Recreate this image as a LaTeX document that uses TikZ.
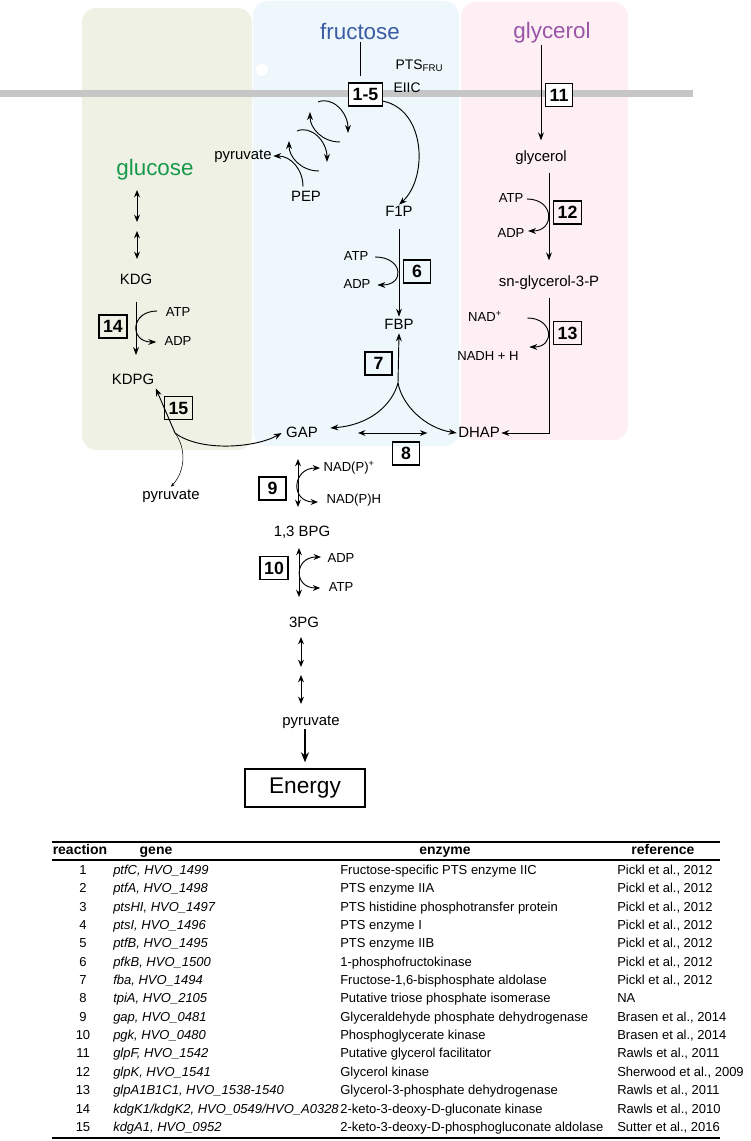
\documentclass[tikz,border=0pt]{standalone}
\usepackage{fontspec}
\setmainfont{Liberation Sans}
\usetikzlibrary{arrows.meta,positioning}

\definecolor{glucbg}{HTML}{F0F1E5}
\definecolor{frubg}{HTML}{EEF7FB}
\definecolor{glybg}{HTML}{FDEFF4}
\definecolor{membrane}{HTML}{C6C6C6}
\definecolor{frublue}{HTML}{3B5BA5}
\definecolor{glypurple}{HTML}{9B55A8}
\definecolor{glcgreen}{HTML}{17994B}

\tikzset{
  met/.style = {font=\fontsize{11.2}{13}\selectfont, inner sep=1pt, text height=8pt, text depth=2pt},
  cof/.style = {font=\fontsize{9.8}{12}\selectfont, inner sep=1pt, text height=7pt, text depth=1.8pt},
  ptslbl/.style = {cof, font=\fontsize{10.4}{12}\selectfont},
  sugar/.style = {font=\fontsize{16.8}{20}\selectfont, inner sep=1pt},
  enzbox/.style = {draw, line width=1.2pt, font=\bfseries\fontsize{13.3}{15}\selectfont, minimum width=20pt, minimum height=17pt, inner xsep=3pt, text height=9.5pt, text depth=0pt},
  rxn/.style = {line width=0.7pt, -{Stealth[length=6pt,width=4.4pt]}},
  revrxn/.style = {line width=0.7pt, {Stealth[length=5.5pt,width=4.4pt]}-{Stealth[length=5.5pt,width=4.4pt]}},
  tabtxt/.style = {font=\fontsize{9.75}{11}\selectfont, inner sep=0pt, text height=7pt, text depth=2pt},
  tabhead/.style = {tabtxt, font=\bfseries\fontsize{10.5}{12}\selectfont}
}

\begin{document}
\begin{tikzpicture}[x=0.75pt, y=-0.75pt]
\fill[white] (0,0) rectangle (750,1141);
\useasboundingbox (0,0) rectangle (750,1141);

% compartments and membrane
\fill[glucbg, rounded corners=11pt] (82,8) rectangle (252,450);
\fill[frubg, rounded corners=11pt] (253,1) rectangle (459,446);
\fill[glybg, rounded corners=11pt] (461,2) rectangle (628,440);
\fill[membrane] (0,90) rectangle (693,97);
\fill[white] (262,70) circle (4.5pt);

% fructose
\node[sugar, text=frublue] (fru) at (360,32) {fructose};
\node[enzbox, fill=white] (e1to5) at (365.5,94.5) {1-5};
\node[ptslbl, anchor=west] (pts) at (394,66) {PTS\textsubscript{FRU}};
\node[ptslbl, anchor=west] (eiic) at (392,89) {EIIC};
\node[met] (pep) at (306,198) {PEP};
\node[met] (pyrA) at (243,156) {pyruvate};
\node[met] (f1p) at (399,213) {F1P};
\node[cof] (atp6) at (356,257) {ATP};
\node[cof] (adp6) at (357,285) {ADP};
\node[enzbox] (e6) at (417,271.5) {6};
\node[met] (fbp) at (399,325) {FBP};
\node[enzbox] (e7) at (378.5,363.5) {7};
\coordinate (split) at (398,383);
\node[met] (gap) at (302,433) {GAP};
\node[met] (dhap) at (479,433) {DHAP};
\node[enzbox] (e8) at (406,453.5) {8};

% glycerol
\node[sugar, text=glypurple] (glyout) at (552,33) {glycerol};
\node[enzbox, fill=white] (e11) at (559,95) {11};
\node[met] (glyin) at (541,158) {glycerol};
\node[cof] (atp12) at (511,199) {ATP};
\node[cof] (adp12) at (511,234) {ADP};
\node[enzbox] (e12) at (567.5,212.5) {12};
\node[met] (g3p) at (549,282) {sn-glycerol-3-P};
\node[cof] (nad) at (485,318) {NAD\textsuperscript{+}};
\node[cof] (nadh) at (488,357) {NADH + H};
\node[enzbox] (e13) at (567.5,333) {13};

% glucose
\node[sugar, text=glcgreen] (glc) at (155,170) {glucose};
\node[met] (kdg) at (136,280) {KDG};
\node[cof] (atp14) at (178,313) {ATP};
\node[cof] (adp14) at (178,342) {ADP};
\node[enzbox] (e14) at (113,326.5) {14};
\node[met] (kdpg) at (133,380) {KDPG};
\node[enzbox] (e15) at (178.5,408) {15};
\coordinate (cleave) at (175,433);
\node[met] (pyrB) at (171,495) {pyruvate};

% lower glycolysis
\node[cof, anchor=west] (nadp) at (322,468) {NAD(P)\textsuperscript{+}};
\node[cof, anchor=west] (nadph) at (325,500) {NAD(P)H};
\node[enzbox] (e9) at (272.5,488.5) {9};
\node[met] (bpg) at (302,532) {1,3 BPG};
\node[cof] (adp10) at (341,559) {ADP};
\node[cof] (atp10) at (341,588) {ATP};
\node[enzbox] (e10) at (274,568) {10};
\node[met] (pg3) at (304,623) {3PG};
\node[met] (pyrC) at (311,721) {pyruvate};
\node[draw, line width=1.1pt, minimum width=90pt, minimum height=28.5pt, font=\fontsize{17}{20}\selectfont] (energy) at (305,788) {Energy};

% PTS uptake
\draw[line width=0.7pt, shorten >=4.5pt] (fru.south) -- (fru.south |- e1to5.north);
\draw[rxn] ([yshift=-5pt]e1to5.east) .. controls (426,110) and (428,178) .. (f1p.north);
\foreach \dx/\dy in {0/0, -21/29} {
  \begin{scope}[shift={(\dx,\dy)}]
    \draw[rxn] (318,102) .. controls (332,96) and (348,112) .. (348,133);
    \draw[rxn] (340,142) .. controls (322,142) and (310,128) .. (310,112);
  \end{scope}
}
\draw[rxn] ([shift={(-3,-3)}]pep.north) .. controls +(0,-17) and +(18,0) .. (pyrA.east);

% fructose to trioses
\draw[rxn, shorten <=6pt] (f1p.south) -- (fbp.north);
\draw[rxn] ([xshift=4pt]atp6.east) .. controls +(28,0) and +(28,0) .. ([xshift=4pt]adp6.east);
\draw[rxn] (split) -- (fbp.south);
\draw[rxn] (split) .. controls (392,405) and (370,425) .. ([shift={(11,-5)}]gap.east);
\draw[rxn] (split) .. controls (402,405) and (425,428) .. (dhap.west);
\draw[revrxn, shorten <=29pt, shorten >=22pt] (gap.east) -- (dhap.west);

% glycerol branch
\draw[rxn, shorten >=7pt] (glyout.south -| glyin.north) -- (glyin.north);
\draw[rxn, shorten <=5pt, shorten >=10pt] (glyin.south -| g3p.north) -- (g3p.north);
\draw[rxn] ([xshift=1.5pt]atp12.east) .. controls +(28,0) and +(27,0) .. ([shift={(2,-3)}]adp12.east);
\draw[rxn] ([xshift=18pt]nad.east) .. controls +(26,0) and +(26,0) .. ([shift={(9,-10)}]nadh.east);
\draw[rxn, shorten <=6pt] (g3p.south) |- (dhap.east);

% glucose branch
\draw[rxn, shorten <=10pt, shorten >=12.5pt] (kdg.south) -- (kdg.south |- kdpg.north);
\draw[rxn] ([shift={(-7,-2)}]atp14.west) .. controls +(-27,0) and +(-27,0) .. ([xshift=-5pt]adp14.west);
\draw[rxn] (cleave) -- (kdpg.south east);
\draw[rxn] (cleave) .. controls (200,452) and (255,448) .. ([shift={(-3,0)}]gap.west);
\draw[thin, -{Stealth[length=3pt,width=2.5pt]}] (cleave) .. controls (186,448) and (186,470) .. (pyrB.north);

% reversible steps
\foreach \x/\ya/\yb [count=\k] in {137/190/222, 137/231/259, 298/459/507, 299/548/597, 301/637/667, 301/675/704} {
  \coordinate (rv\k-a) at (\x,\ya);
  \coordinate (rv\k-b) at (\x,\yb);
  \draw[revrxn] (rv\k-a) -- (rv\k-b);
}
\draw[revrxn] ([xshift=-1.5pt]nadp.west) .. controls +(-28,0) and +(-28,0) .. ([shift={(-7,2)}]nadph.west);
\draw[revrxn] ([shift={(-5,-2)}]adp10.west) .. controls +(-27,0) and +(-27,0) .. ([shift={(-7,0)}]atp10.west);
\draw[rxn, line width=1.1pt, -{Stealth[length=7.5pt,width=6pt]}, shorten >=4.5pt] (pyrC.south -| energy.north) -- (energy.north);

% table
\draw[line width=1.5pt] (52,842) -- (720,842);
\draw[line width=1pt] (52,860) -- (720,860);
\draw[line width=1.5pt] (52,1138) -- (720,1138);
\node[tabhead] (hreac) at (80,851) {reaction};
\node[tabhead] (hgene) at (156,851) {gene};
\node[tabhead] (henz) at (445,851) {enzyme};
\node[tabhead] (href) at (663,851) {reference};
\foreach \gn/\en/\rf [count=\i] in {
  {ptfC, HVO\_1499}/{Fructose-specific PTS enzyme IIC}/{Pickl et al., 2012},
  {ptfA, HVO\_1498}/{PTS enzyme IIA}/{Pickl et al., 2012},
  {ptsHI, HVO\_1497}/{PTS histidine phosphotransfer protein}/{Pickl et al., 2012},
  {ptsI, HVO\_1496}/{PTS enzyme I}/{Pickl et al., 2012},
  {ptfB, HVO\_1495}/{PTS enzyme IIB}/{Pickl et al., 2012},
  {pfkB, HVO\_1500}/{1-phosphofructokinase}/{Pickl et al., 2012},
  {fba, HVO\_1494}/{Fructose-1,6-bisphosphate aldolase}/{Pickl et al., 2012},
  {tpiA, HVO\_2105}/{Putative triose phosphate isomerase}/{NA},
  {gap, HVO\_0481}/{Glyceraldehyde phosphate dehydrogenase}/{Brasen et al., 2014},
  {pgk, HVO\_0480}/{Phosphoglycerate kinase}/{Brasen et al., 2014},
  {glpF, HVO\_1542}/{Putative glycerol facilitator}/{Rawls et al., 2011},
  {glpK, HVO\_1541}/{Glycerol kinase}/{Sherwood et al., 2009},
  {glpA1B1C1, HVO\_1538-1540}/{Glycerol-3-phosphate dehydrogenase}/{Rawls et al., 2011},
  {kdgK1/kdgK2, HVO\_0549/HVO\_A0328}/{2-keto-3-deoxy-D-gluconate kinase}/{Rawls et al., 2010},
  {kdgA1, HVO\_0952}/{2-keto-3-deoxy-D-phosphogluconate aldolase}/{Sutter et al., 2016}
} {
  \node[tabtxt] (num\i) at (83,{871+(\i-1)*18.36}) {\i};
  \node[tabtxt, anchor=west] (gene\i) at (113,{871+(\i-1)*18.36}) {\itshape\gn};
  \node[tabtxt, anchor=west] (enz\i) at (340,{871+(\i-1)*18.36}) {\en};
  \node[tabtxt, anchor=west] (ref\i) at (617,{871+(\i-1)*18.36}) {\rf};
}
\end{tikzpicture}
\end{document}
